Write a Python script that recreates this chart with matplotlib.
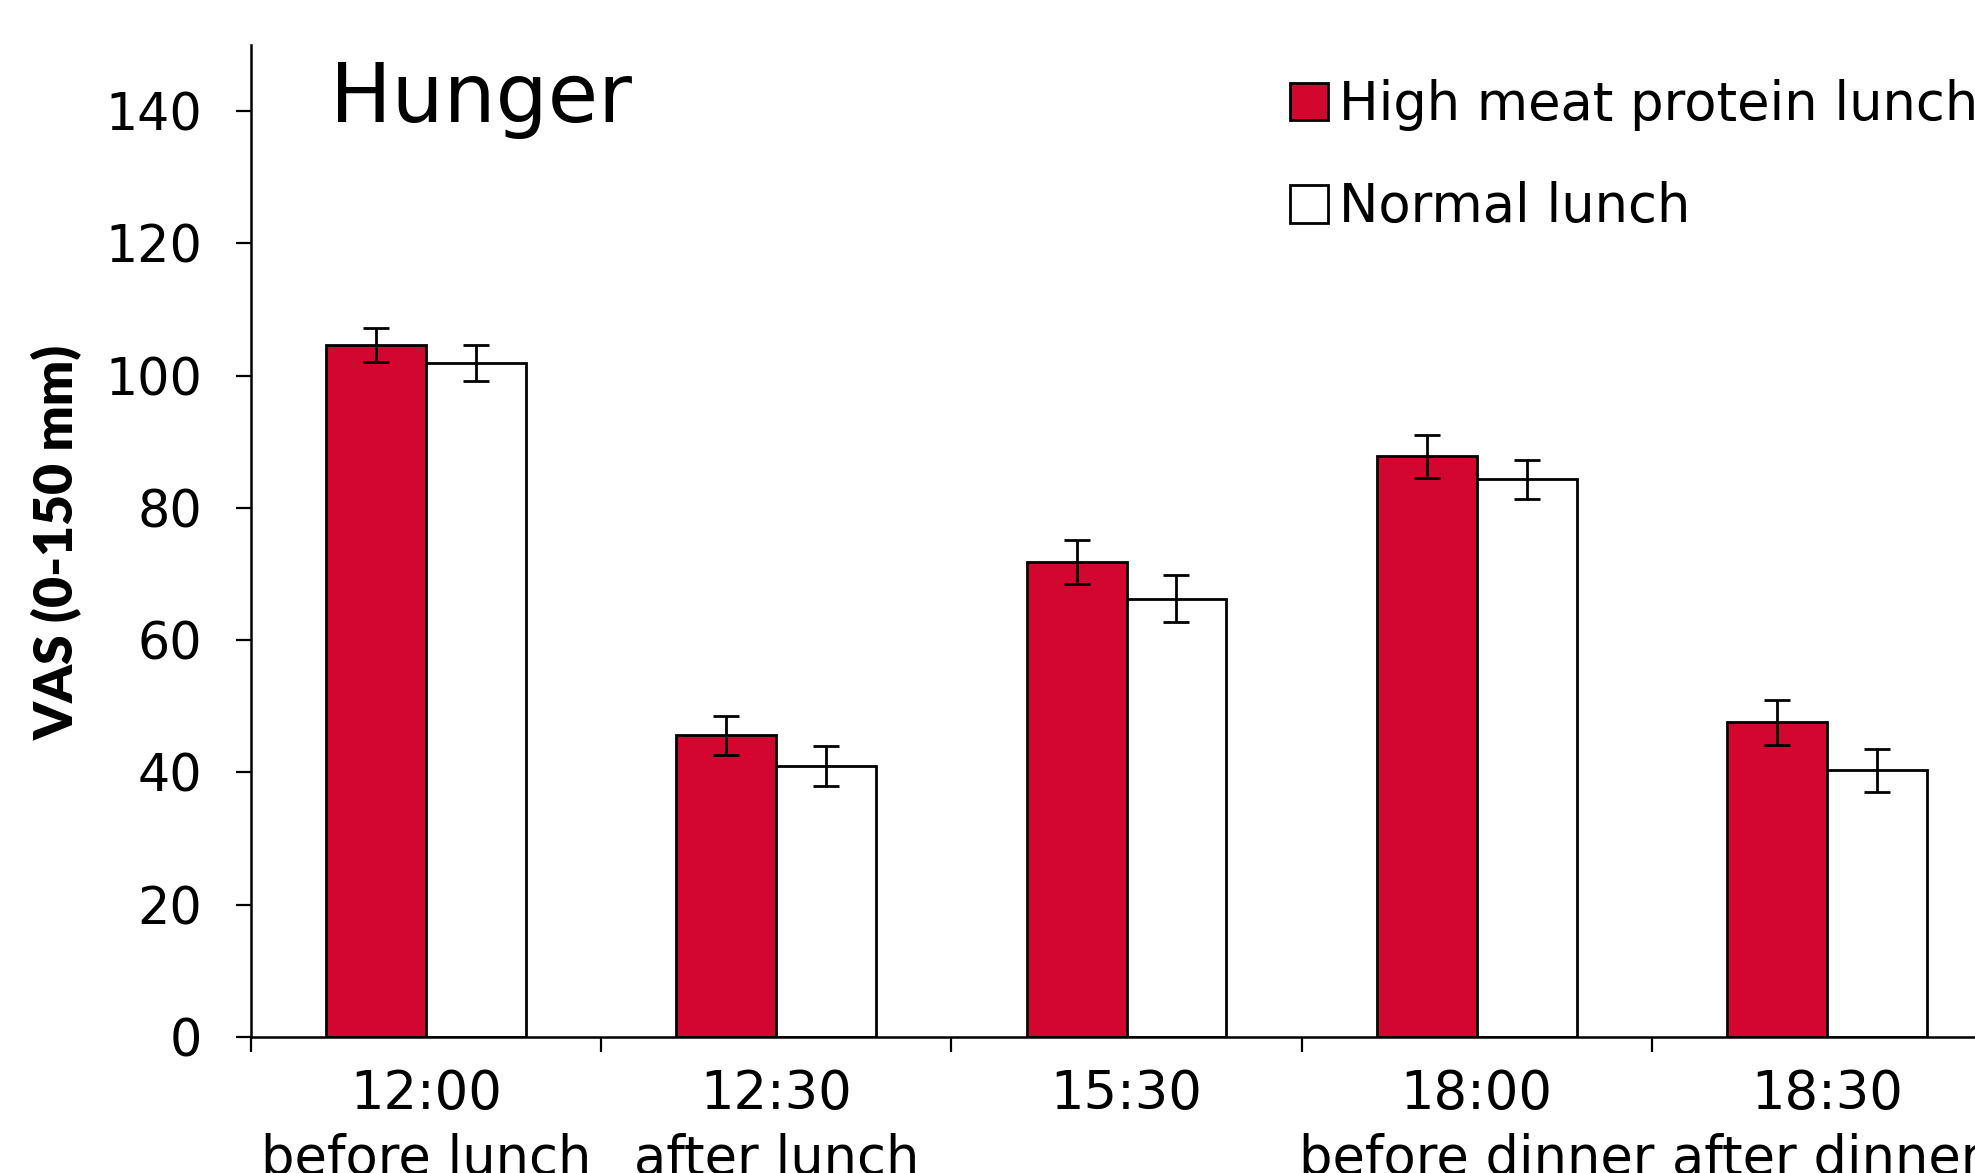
import numpy as np
import matplotlib.pyplot as plt
from matplotlib.patches import Patch

times = ["12:00", "12:30", "15:30", "18:00", "18:30"]
moments = ["before lunch", "after lunch", "", "before dinner", "after dinner"]
high_meat = [104.6, 45.6, 71.8, 87.8, 47.6]
high_meat_err = [2.6, 3.0, 3.3, 3.3, 3.4]
normal = [101.9, 41.0, 66.3, 84.3, 40.3]
normal_err = [2.7, 3.0, 3.6, 3.0, 3.3]

red = "#d3062f"

fig = plt.figure(figsize=(19.75, 11.73), dpi=100)
ax = fig.add_axes([251 / 1975, 136 / 1173, 1751 / 1975, 992 / 1173])

x = np.arange(len(times)) + 0.5
w = 0.285
ekw = dict(elinewidth=2.0, capthick=2.0, ecolor="black")
ax.bar(x - w, high_meat, w, align="edge", color=red, edgecolor="black", linewidth=2.0,
       yerr=high_meat_err, capsize=9.5, error_kw=ekw)
ax.bar(x, normal, w, align="edge", color="white", edgecolor="black", linewidth=2.0,
       yerr=normal_err, capsize=9.5, error_kw=ekw)

ax.set_xlim(0, 5)
ax.set_ylim(0, 150)
ax.set_yticks(range(0, 141, 20))
ax.tick_params(axis="y", labelsize=36.5, length=11, width=1.6, pad=24, direction="out")
ax.set_xticks(x)
ax.set_xticklabels([f"{t}\n{m}" for t, m in zip(times, moments)], fontsize=38, linespacing=1.33)
ax.tick_params(axis="x", length=0, pad=22)
ax.set_xticks(np.arange(0, 6), minor=True)
ax.tick_params(axis="x", which="minor", length=11, width=1.6, direction="out")

for s in ["top", "right"]:
    ax.spines[s].set_visible(False)
for s in ["left", "bottom"]:
    ax.spines[s].set_linewidth(1.8)

fig.text(330 / 1975, 1 - 122 / 1173, "Hunger", fontsize=59, va="baseline", ha="left")
fig.text(57 / 1975, 1 - 542 / 1173, "VAS (0-150 mm)", rotation=90, fontsize=38.5,
         fontweight="heavy", family="Lato", ha="center", va="center")

handles = [Patch(facecolor=red, edgecolor="black", linewidth=2.0),
           Patch(facecolor="white", edgecolor="black", linewidth=2.0)]
fig.legend(handles, ["High meat protein lunch", "Normal lunch"], loc="upper left",
           bbox_to_anchor=(1290 / 1975, 1 - 79 / 1173), frameon=False, fontsize=38,
           borderaxespad=0, borderpad=0, handlelength=0.72, handleheight=0.72,
           handletextpad=0.2, labelspacing=0.95)

fig.savefig("out.png", dpi=100)
